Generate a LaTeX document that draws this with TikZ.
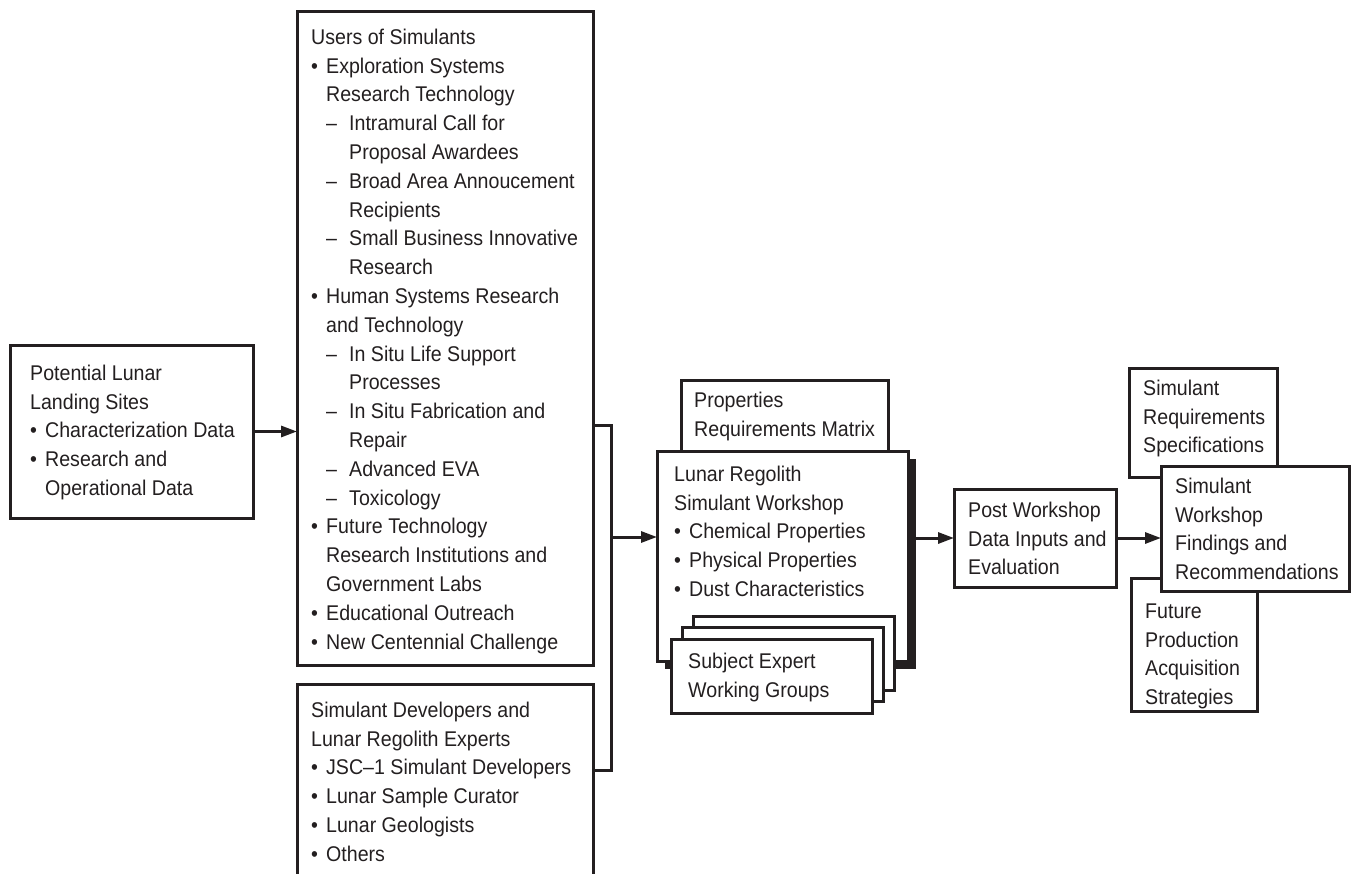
\documentclass[tikz,border=0pt]{standalone}
\usepackage{fontspec}
\setmainfont{Liberation Sans}[FakeStretch=0.92]
\usetikzlibrary{arrows.meta}
\definecolor{ink}{RGB}{35,31,32}
\newcommand{\bu}{\makebox[15pt][l]{•}}
\newcommand{\ib}{\hspace*{15pt}}
\newcommand{\da}{\hspace*{15pt}\makebox[23pt][l]{–}}
\newcommand{\id}{\hspace*{38pt}}
\newcommand{\fl}{\rule{0pt}{16pt}}
\begin{document}
\begin{tikzpicture}[x=1pt,y=-1pt,
  box/.style={draw=ink, line width=3pt, fill=white, anchor=north west, inner sep=0pt, outer sep=0pt},
  shadowbox/.style={fill=ink, draw=none, anchor=north west, inner sep=0pt, outer sep=0pt},
  txt/.style={anchor=north west, inner sep=0pt, align=left, font=\fontsize{21.3}{28.8}\selectfont, text=ink},
  arr/.style={draw=ink, line width=3pt, -{Triangle[length=16pt,width=11pt]}},
  wire/.style={draw=ink, line width=3pt}]
\useasboundingbox (0,0) rectangle (1351,874);

% left box
\node[box, minimum width=243pt, minimum height=173pt] (lb) at (10,345) {};
\node[txt] (lbt) at (30,364) {\fl Potential Lunar\\Landing Sites\\\bu Characterization Data\\\bu Research and\\\ib Operational Data};

% users box
\node[box, minimum width=296pt, minimum height=653pt] (ub) at (297,12) {};
\node[txt] (ubt) at (311,28) {\fl Users of Simulants\\
\bu Exploration Systems\\
\ib Research Technology\\
\da Intramural Call for\\
\id Proposal Awardees\\
\da Broad Area Annoucement\\
\id Recipients\\
\da Small Business Innovative\\
\id Research\\
\bu Human Systems Research\\
\ib and Technology\\
\da In Situ Life Support\\
\id Processes\\
\da In Situ Fabrication and\\
\id Repair\\
\da Advanced EVA\\
\da Toxicology\\
\bu Future Technology\\
\ib Research Institutions and\\
\ib Government Labs\\
\bu Educational Outreach\\
\bu New Centennial Challenge};

% developers box (open at the bottom edge)
\node[anchor=north west, inner sep=0pt, outer sep=0pt, minimum width=296pt, minimum height=196pt] (db) at (297,684) {};
\draw[wire] (db.south west) -- (db.north west) -- (db.north east) -- (db.south east);
\node[txt] (dbt) at (311,701) {\fl Simulant Developers and\\Lunar Regolith Experts\\\bu JSC–1 Simulant Developers\\\bu Lunar Sample Curator\\\bu Lunar Geologists\\\bu Others};

% workshop group
\node[box, minimum width=207pt, minimum height=71pt] (pb) at (681,380) {};
\node[txt] (pbt) at (694,391) {\fl Properties\\Requirements Matrix};
\node[shadowbox, minimum width=251pt, minimum height=210pt] (wsh) at (665,459) {};
\node[box, minimum width=251pt, minimum height=210pt] (ws) at (657,451) {};
\node[txt] (wst) at (674,465) {\fl Lunar Regolith\\Simulant Workshop\\\bu Chemical Properties\\\bu Physical Properties\\\bu Dust Characteristics};
\node[box, minimum width=201pt, minimum height=74pt] (s3) at (693,616) {};
\node[box, minimum width=201pt, minimum height=74pt] (s2) at (682,627.5) {};
\node[box, minimum width=201pt, minimum height=74pt] (s1) at (671,639) {};
\node[txt] (s1t) at (688,652) {\fl Subject Expert\\Working Groups};

% post workshop
\node[box, minimum width=162pt, minimum height=98pt] (pw) at (954,489) {};
\node[txt] (pwt) at (968,501) {\fl Post Workshop\\Data Inputs and\\Evaluation};

% right group
\node[box, minimum width=148pt, minimum height=109pt] (sb) at (1129,368) {};
\node[txt] (sbt) at (1143,379) {\fl Simulant\\Requirements\\Specifications};
\node[box, minimum width=126pt, minimum height=133pt] (fu) at (1131,578) {};
\node[txt] (fut) at (1145,602) {\fl Future\\Production\\Acquisition\\Strategies};
\node[box, minimum width=188pt, minimum height=125pt] (fb) at (1161,466) {};
\node[txt] (fbt) at (1175,477) {\fl Simulant\\Workshop\\Findings and\\Recommendations};

% connectors
\draw[arr] (lb.east) -- (lb.east -| ub.west);
\coordinate (bt) at (611,425);
\coordinate (bb) at (611,770);
\coordinate (bj) at (611,537);
\draw[wire] (bt -| ub.east) -- (bt) -- (bb) -- (bb -| db.east);
\draw[arr] (bj) -- (bj -| ws.west);
\draw[arr] (pw.west -| wsh.east) -- (pw.west);
\draw[arr] (pw.east) -- (pw.east -| fb.west);
\end{tikzpicture}
\end{document}
